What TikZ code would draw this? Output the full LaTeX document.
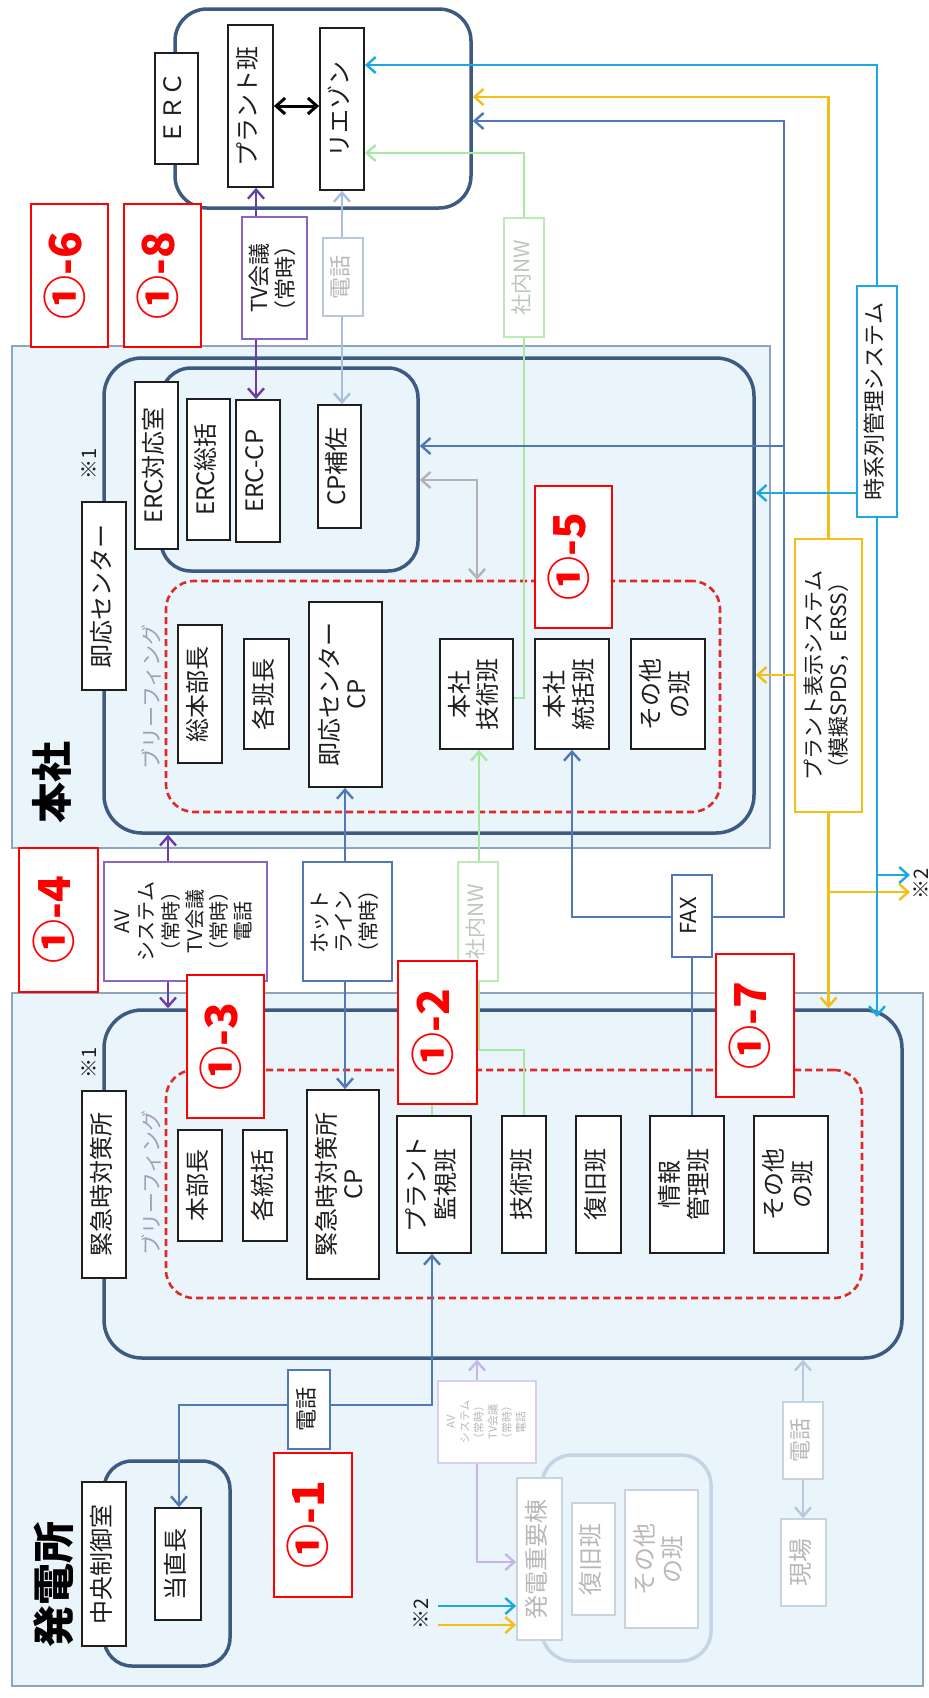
\documentclass[tikz,border=0pt]{standalone}
\usepackage{fontspec}
\setmainfont{Noto Sans CJK JP}
\usetikzlibrary{arrows.meta}
\pgfdeclarelayer{back}
\pgfdeclarelayer{mid}
\pgfsetlayers{back,mid,main}
\definecolor{bgb}{HTML}{EAF4FB}
\definecolor{outl}{HTML}{8FA5BC}
\definecolor{dkb}{HTML}{3D5A80}
\definecolor{stb}{HTML}{4F78B5}
\definecolor{cyn}{HTML}{1CA8E3}
\definecolor{ylw}{HTML}{F3BE16}
\definecolor{pur}{HTML}{6E3CA5}
\definecolor{purl}{HTML}{8A66BE}
\definecolor{lbl}{HTML}{A9BEDD}
\definecolor{grn}{HTML}{A9E8A3}
\definecolor{grnb}{HTML}{BDEBB5}
\definecolor{grnt}{HTML}{B9C9B9}
\definecolor{gry}{HTML}{B3B3B3}
\definecolor{lav}{HTML}{C8B4E6}
\definecolor{lavb}{HTML}{DCCDEE}
\definecolor{fnt}{HTML}{C9D3DE}
\definecolor{fntl}{HTML}{B8C8DC}
\definecolor{ftx}{HTML}{B8B8B8}
\definecolor{rd}{HTML}{FF0000}
\definecolor{rdd}{HTML}{E02A2A}
\definecolor{brf}{HTML}{A39DB8}
\definecolor{txk}{HTML}{1E1E1E}
\definecolor{fgrp}{HTML}{C5D3E3}
\tikzset{
  myb/.tip={Straight Barb[length=9pt,width=16pt]},
  lw/.style={line width=2.4pt},
  bk/.style={draw=txk, fill=white, line width=1.8pt, inner sep=0pt, text=txk, font=\fontsize{24}{27}\selectfont},
  lab/.style={draw=rd, fill=white, line width=2.2pt, inner sep=0pt, text=rd, font=\bfseries\fontsize{44}{48}\selectfont},
  cbox/.style={fill=white, line width=1.6pt, inner sep=0pt, font=\fontsize{21}{24}\selectfont},
  grp/.style={draw=dkb, line width=3.5pt, inner sep=0pt},
  rdash/.style={draw=rdd, line width=2.6pt, dash pattern=on 7pt off 4pt, rounded corners=28pt, inner sep=0pt},
  outer/.style={draw=outl, fill=bgb, line width=1.5pt, inner sep=0pt},
}
\newcommand\Bx[7]{%
  \pgfmathsetmacro\myW{#5-#3}%
  \pgfmathsetmacro\myH{#6-#4}%
  \node[#2,minimum width=\myW pt,minimum height=\myH pt] (#1) at ({(#3+#5)/2},{(#4+#6)/2}) {\rotatebox{90}{\begin{tabular}{@{}c@{}}#7\end{tabular}}};}
\begin{document}
\begin{tikzpicture}[x=1pt,y=-1pt]
\useasboundingbox (0,0) rectangle (929,1698);
\begin{pgfonlayer}{back}
\fill[white] (0,0) rectangle (929,1698);
\Bx{HQ}{outer}{12}{346}{770}{848}{}
\Bx{PS}{outer}{12}{993}{923}{1686}{}
\Bx{ERCB}{grp, fill=white, rounded corners=32pt}{175}{9}{471}{208}{}
\Bx{SOK}{grp, rounded corners=38pt}{104}{358}{754}{833}{}
\Bx{SUB}{grp, rounded corners=30pt}{161}{368}{418}{571}{}
\Bx{RD1}{rdash}{166}{581}{720}{812}{}
\Bx{KKB}{grp, rounded corners=38pt}{104}{1010}{902}{1358}{}
\Bx{RD2}{rdash}{166}{1070}{862}{1298}{}
\Bx{CC}{grp, rounded corners=28pt}{104}{1461}{230}{1666}{}
\Bx{FG}{draw=fgrp, line width=3.5pt, rounded corners=30pt, inner sep=0pt}{542}{1455}{711}{1661}{}
\end{pgfonlayer}

% titles and notes
\node[font=\bfseries\fontsize{41}{44}\selectfont, text=black] (T1) at (52,782) {\rotatebox{90}{本社}};
\node[font=\bfseries\fontsize{42}{44}\selectfont, text=black] (T2) at (54,1584) {\rotatebox{90}{発電所}};
\node[font=\fontsize{20}{22}\selectfont, text=txk] (N1) at (89,464) {\rotatebox{90}{※1}};
\node[font=\fontsize{20}{22}\selectfont, text=txk] (N2) at (89,1063) {\rotatebox{90}{※1}};
\node[font=\fontsize{20}{22}\selectfont, text=txk] (N3) at (421,1614) {\rotatebox{90}{※2}};
\node[font=\fontsize{20}{22}\selectfont, text=txk] (N4) at (921,884) {\rotatebox{90}{※2}};
\node[font=\fontsize{21}{24}\selectfont, text=brf] (BR1) at (151,697) {\rotatebox{90}{ブリーフィング}};
\node[font=\fontsize{21}{24}\selectfont, text=brf] (BR2) at (151,1183) {\rotatebox{90}{ブリーフィング}};

% ERC group
\Bx{ERC}{bk}{155}{53}{198}{164}{ＥＲＣ}
\Bx{PB}{bk}{228}{25}{273}{187}{プラント班}
\Bx{RZ}{bk}{320}{28}{364}{190}{リエゾン}

% honsha
\Bx{ERCT}{bk}{135}{382}{178}{549}{ERC対応室}
\Bx{ERCS}{bk}{187}{399}{230}{540}{ERC総括}
\Bx{ECP}{bk}{236}{400}{280}{542}{ERC-CP}
\Bx{CPH}{bk}{318}{405}{361}{528}{CP補佐}
\Bx{SOKL}{bk}{82}{502}{126}{690}{即応センター}
\Bx{SB}{bk}{178}{625}{222}{763}{総本部長}
\Bx{KH}{bk}{244}{639}{289}{749}{各班長}
\Bx{SCP}{bk}{309}{602}{382}{787}{即応センター\\CP}
\Bx{HT}{bk}{440}{639}{513}{749}{本社\\技術班}
\Bx{TG}{bk}{535}{639}{609}{749}{本社\\統括班}
\Bx{SO1}{bk}{631}{639}{705}{749}{その他\\の班}

% plant
\Bx{KKL}{bk}{82}{1091}{126}{1278}{緊急時対策所}
\Bx{HB}{bk}{178}{1130}{222}{1241}{本部長}
\Bx{KT}{bk}{243}{1130}{287}{1241}{各統括}
\Bx{KCP}{bk}{307}{1090}{379}{1279}{緊急時対策所\\CP}
\Bx{PM}{bk}{397}{1116}{471}{1253}{プラント\\監視班}
\Bx{GJ}{bk}{502}{1116}{546}{1253}{技術班}
\Bx{FK}{bk}{576}{1116}{621}{1253}{復旧班}
\Bx{JK}{bk}{650}{1116}{724}{1253}{情報\\管理班}
\Bx{SO2}{bk}{754}{1116}{828}{1253}{その他\\の班}
\Bx{CCL}{bk}{82}{1482}{126}{1646}{中央制御室}
\Bx{TC}{bk}{155}{1508}{201}{1620}{当直長}

% faint group
\Bx{HJ}{bk, draw=fnt, text=ftx}{517}{1478}{562}{1640}{発電重要棟}
\Bx{FK2}{bk, draw=fnt, text=ftx}{572}{1503}{615}{1615}{復旧班}
\Bx{SO3}{bk, draw=fnt, text=ftx}{625}{1490}{698}{1628}{その他\\の班}
\Bx{GB}{bk, draw=fnt, text=ftx}{781}{1519}{826}{1606}{現場}

% connector boxes
\Bx{TV}{cbox, draw=purl, text=txk, font=\fontsize{22}{24}\selectfont}{242}{217}{307}{339}{TV会議\\（常時）}
\Bx{TEL1}{cbox, draw=fntl, text=ftx, font=\fontsize{22}{24}\selectfont}{323}{238}{363}{316}{電話}
\Bx{NW1}{cbox, draw=grnb, text=grnt}{504}{218}{544}{337}{社内NW}
\Bx{JK2}{cbox, draw=cyn, text=txk, font=\fontsize{22}{24}\selectfont}{857}{286}{897}{517}{時系列管理システム}
\Bx{PD}{cbox, draw=ylw, text=txk}{795}{539}{862}{812}{プラント表示システム\\（模擬SPDS，ERSS）}
\Bx{AV}{cbox, draw=purl, text=txk, font=\fontsize{20}{24}\selectfont}{104}{862}{267}{981}{AV\\システム\\（常時）\\TV会議\\（常時）\\電話}
\Bx{HL}{cbox, draw=stb, text=txk}{303}{862}{392}{981}{ホット\\ライン\\（常時）}
\Bx{NW2}{cbox, draw=grnb, text=grnt}{458}{862}{498}{981}{社内NW}
\Bx{FAX}{cbox, draw=stb, text=txk, font=\fontsize{22}{24}\selectfont}{672}{875}{712}{957}{FAX}
\Bx{TEL2}{cbox, draw=stb, text=txk, font=\fontsize{22}{24}\selectfont}{288}{1370}{330}{1449}{電話}
\Bx{AV2}{cbox, draw=lavb, text=ftx, font=\fontsize{11}{14}\selectfont}{438}{1381}{536}{1463}{AV\\システム\\（常時）\\TV会議\\（常時）\\電話}
\Bx{TEL3}{cbox, draw=fnt, text=ftx, font=\fontsize{22}{24}\selectfont}{783}{1402}{823}{1479}{電話}

% red labels
\Bx{L16}{lab}{31}{204}{108}{347}{①-6}
\Bx{L18}{lab}{124}{204}{201}{347}{①-8}
\Bx{L15}{lab}{535}{486}{612}{628}{①-5}
\Bx{L14}{lab}{19}{848}{98}{992}{①-4}
\Bx{L13}{lab}{187}{975}{264}{1118}{①-3}
\Bx{L12}{lab}{398}{961}{477}{1104}{①-2}
\Bx{L17}{lab}{716}{954}{794}{1097}{①-7}
\Bx{L11}{lab}{274}{1453}{352}{1597}{①-1}

% helper coordinates
\coordinate (xP) at (256,0);
\coordinate (xL) at (342,0);
\coordinate (g1) at (524,698);
\coordinate (g2) at (524,153);
\coordinate (g3) at (479,1050);
\coordinate (g4) at (432,1050);
\coordinate (g5) at (524,1050);
\coordinate (xH) at (345,0);
\coordinate (s1) at (572,917);
\coordinate (s2) at (784,917);
\coordinate (s3) at (784,121);
\coordinate (s4) at (784,446);
\coordinate (y1) at (829,97);
\coordinate (y2) at (829,675);
\coordinate (y3) at (829,892);
\coordinate (y4) at (910,892);
\coordinate (c1) at (877,65);
\coordinate (c2) at (877,493);
\coordinate (c3) at (877,875);
\coordinate (c4) at (910,875);
\coordinate (c5) at (877,1017);
\coordinate (gr1) at (477,480);
\coordinate (xA) at (168,0);
\coordinate (t1) at (432,1405);
\coordinate (t2) at (179,1405);
\coordinate (v1) at (477,1562);
\coordinate (k1) at (438,1606);
\coordinate (k2) at (438,1625);
\coordinate (xT) at (803,0);

\begin{pgfonlayer}{mid}
\draw[line width=3pt, black, myb-myb] (PB.east) -- (PB.east -| RZ.west);
\draw[pur, lw, myb-myb] (PB.south -| xP) -- (ECP.north -| xP);
\draw[lbl, lw, myb-myb] (RZ.south -| xL) -- (CPH.north -| xL);
\draw[grn, lw, -myb] (HT.east |- g1) -- (g1) -- (g2) -- (RZ.east |- g2);
\draw[grn, lw, myb-] (HT.south -| g3) -- (g3);
\draw[grn, lw] (PM.north -| g4) -- (g4) -- (g5) -- (GJ.north -| g5);
\draw[stb, lw, myb-myb] (SCP.south -| xH) -- (KCP.north -| xH);
\draw[stb, lw, myb-myb] (TG.south -| s1) -- (s1) -- (s2) -- (s3) -- (ERCB.east |- s3);
\draw[stb, lw, -myb] (s4) -- (SUB.east |- s4);
\draw[stb, lw] (FAX.south) -- (FAX.south |- JK.north);
\draw[ylw, lw, -myb] (PD.north) -- (PD.north |- y1) -- (ERCB.east |- y1);
\draw[ylw, lw, -myb] (PD.west |- y2) -- (SOK.east |- y2);
\draw[ylw, lw, -myb] (PD.south) -- (PD.south |- KKB.north);
\draw[ylw, lw, -myb] (PD.south |- y3) -- (y4);
\draw[cyn, lw, -myb] (JK2.north) -- (JK2.north |- c1) -- (RZ.east |- c1);
\draw[cyn, lw, -myb] (JK2.west |- c2) -- (SOK.east |- c2);
\draw[cyn, lw, -myb] (JK2.south) -- (c5);
\draw[cyn, lw, -myb] (c3) -- (c4);
\draw[gry, lw, myb-myb] (SUB.east |- gr1) -- (gr1) -- (gr1 |- RD1.north);
\draw[pur, lw, myb-myb] (SOK.south -| xA) -- (KKB.north -| xA);
\draw[stb, lw, myb-myb] (PM.south -| t1) -- (t1) -- (t2) -- (TC.north -| t2);
\draw[lav, lw, myb-myb] (KKB.south -| v1) -- (v1) -- (HJ.west |- v1);
\draw[cyn, lw, -myb] (k1) -- (HJ.west |- k1);
\draw[ylw, lw, -myb] (k2) -- (HJ.west |- k2);
\draw[fntl, lw, myb-myb] (KKB.south -| xT) -- (GB.north -| xT);
\end{pgfonlayer}
\end{tikzpicture}
\end{document}
